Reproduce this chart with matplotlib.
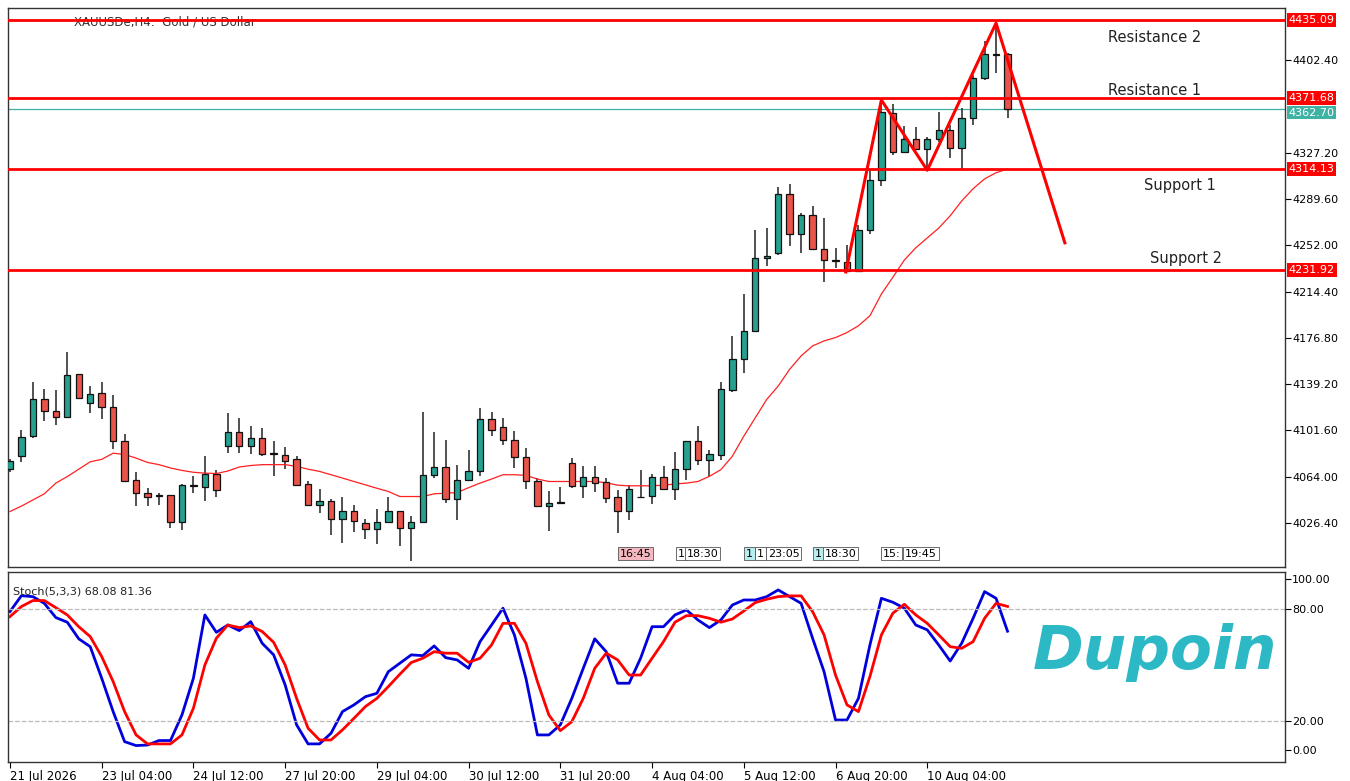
import matplotlib
matplotlib.use("Agg")
import matplotlib.pyplot as plt
from matplotlib.patches import Rectangle
import numpy as np

# candles (open, high, low, close), H4 bars
opens = [4070.4, 4080.5, 4096.8, 4126.7, 4117.7, 4112.3, 4147.1, 4124.0, 4131.6, 4120.7,
         4092.7, 4060.9, 4050.5, 4049.2, 4049.2, 4026.9, 4056.2, 4055.4, 4066.3, 4089.2,
         4100.0, 4089.2, 4095.1, 4083.2, 4081.8, 4078.6, 4057.9, 4041.0, 4044.5, 4029.3,
         4036.4, 4026.1, 4021.2, 4026.9, 4036.4, 4022.0, 4026.9, 4065.5, 4071.7, 4045.7,
         4060.9, 4068.2, 4110.4, 4104.4, 4094.1, 4079.9, 4060.1, 4040.2, 4042.4, 4075.0,
         4056.0, 4063.6, 4059.3, 4047.3, 4036.4, 4047.6, 4048.4, 4063.6, 4053.8, 4070.1,
         4092.7, 4077.2, 4081.8, 4134.3, 4159.4, 4182.5, 4241.5, 4245.9, 4294.0, 4261.4,
         4276.3, 4248.6, 4240.4, 4238.8, 4231.4, 4264.1, 4304.9, 4359.2, 4327.9, 4338.3,
         4330.1, 4338.3, 4345.6, 4331.2, 4355.1, 4388.3, 4407.3, 4407.3]
closes = [4076.4, 4096.2, 4126.7, 4117.2, 4112.6, 4146.6, 4128.1, 4131.3, 4120.7, 4092.7,
          4060.6, 4050.5, 4047.8, 4048.6, 4026.9, 4056.8, 4057.3, 4066.3, 4052.7, 4100.0,
          4089.2, 4095.1, 4082.6, 4082.6, 4076.9, 4057.3, 4041.0, 4044.5, 4029.3, 4036.4,
          4028.2, 4021.2, 4026.9, 4036.4, 4022.0, 4026.9, 4065.5, 4071.7, 4045.6, 4060.9,
          4068.2, 4110.4, 4102.2, 4093.5, 4079.9, 4060.1, 4039.7, 4042.4, 4043.2, 4056.0,
          4063.6, 4058.7, 4046.5, 4036.4, 4053.8, 4047.0, 4063.6, 4053.8, 4070.1, 4092.7,
          4077.8, 4082.4, 4134.9, 4159.4, 4182.5, 4241.5, 4243.7, 4294.0, 4261.4, 4276.3,
          4249.1, 4240.4, 4239.6, 4231.4, 4264.1, 4304.9, 4360.6, 4327.9, 4338.8, 4330.1,
          4338.3, 4345.6, 4331.2, 4355.1, 4388.3, 4407.3, 4406.8, 4362.7]
highs = [4078.0, 4102.2, 4141.1, 4135.4, 4134.0, 4165.6, 4147.1, 4137.6, 4141.1, 4130.2,
         4099.0, 4067.4, 4054.6, 4050.5, 4049.2, 4057.9, 4064.1, 4081.0, 4069.0, 4115.3,
         4111.7, 4105.5, 4103.6, 4092.7, 4088.1, 4081.0, 4060.1, 4053.8, 4045.6, 4047.3,
         4041.0, 4029.3, 4037.5, 4047.3, 4036.4, 4032.0, 4116.4, 4100.0, 4093.5, 4073.7,
         4085.9, 4119.9, 4116.4, 4111.7, 4100.9, 4087.3, 4062.8, 4051.9, 4055.5, 4079.1,
         4072.3, 4072.3, 4062.8, 4052.7, 4057.3, 4069.6, 4066.3, 4072.9, 4083.7, 4092.7,
         4105.5, 4085.4, 4140.9, 4178.4, 4212.4, 4264.1, 4266.0, 4299.4, 4302.2, 4278.5,
         4283.9, 4274.1, 4249.7, 4252.4, 4268.2, 4314.0, 4369.3, 4366.6, 4349.2, 4348.4,
         4340.2, 4360.6, 4349.7, 4363.3, 4390.5, 4417.7, 4431.3, 4408.2]
lows = [4068.0, 4075.6, 4095.4, 4109.0, 4106.3, 4112.3, 4127.2, 4115.8, 4110.9, 4086.4,
        4059.2, 4039.7, 4039.7, 4041.0, 4022.0, 4020.6, 4050.5, 4044.5, 4047.8, 4083.2,
        4083.2, 4082.4, 4080.5, 4064.1, 4070.1, 4057.3, 4040.2, 4034.2, 4016.5, 4010.3,
        4019.3, 4013.0, 4009.2, 4026.1, 4007.6, 3995.6, 4026.9, 4062.8, 4042.9, 4028.3,
        4060.1, 4064.2, 4096.8, 4090.0, 4071.0, 4053.8, 4039.7, 4020.1, 4041.8, 4054.6,
        4046.5, 4051.1, 4042.4, 4018.5, 4028.8, 4046.5, 4041.8, 4053.8, 4044.6, 4061.4,
        4073.7, 4064.2, 4077.8, 4132.7, 4148.5, 4182.5, 4235.0, 4244.2, 4251.3, 4245.9,
        4249.1, 4222.5, 4233.3, 4230.1, 4231.4, 4261.4, 4300.2, 4325.8, 4327.4, 4329.3,
        4313.0, 4336.1, 4323.0, 4314.4, 4349.7, 4386.4, 4391.9, 4355.7]

ma = [4035.6, 4040.0, 4045.0, 4050.0, 4058.7, 4064.0, 4070.0, 4076.0, 4078.0, 4083.0,
      4082.0, 4079.0, 4075.5, 4073.7, 4071.0, 4069.0, 4067.5, 4066.8, 4066.5, 4068.5,
      4071.8, 4073.0, 4073.7, 4073.7, 4073.7, 4072.3, 4070.0, 4068.2, 4065.5, 4062.8,
      4060.0, 4057.3, 4054.5, 4051.9, 4047.8, 4047.8, 4047.8, 4050.0, 4050.5, 4051.0,
      4055.0, 4058.7, 4062.0, 4065.5, 4065.5, 4065.0, 4062.0, 4060.0, 4060.0, 4060.0,
      4060.0, 4060.0, 4059.0, 4057.0, 4056.5, 4056.5, 4056.5, 4057.0, 4058.0, 4058.7,
      4060.0, 4064.2, 4069.6, 4080.5, 4096.8, 4111.8, 4126.7, 4137.6, 4151.2, 4162.1,
      4170.2, 4174.3, 4177.0, 4181.1, 4186.6, 4194.7, 4212.4, 4226.0, 4240.0, 4250.0,
      4258.0, 4266.0, 4276.0, 4288.0, 4298.0, 4306.0, 4311.0, 4314.0]

stoch_k = [78.6, 87.1, 86.6, 83.0, 75.4, 72.9, 64.0, 59.8, 42.9, 25.0,
           8.9, 6.8, 7.1, 9.5, 9.5, 23.2, 42.9, 76.8, 67.5, 71.4,
           68.4, 73.2, 61.6, 55.4, 39.3, 17.9, 7.7, 7.7, 13.4, 25.0,
           28.6, 33.0, 34.8, 46.4, 50.9, 55.4, 55.0, 60.2, 53.9, 52.7,
           48.2, 62.5, 71.4, 80.4, 66.0, 42.9, 12.5, 12.5, 17.9, 32.1,
           48.2, 64.0, 57.1, 40.2, 40.2, 53.6, 70.5, 70.5, 76.8, 79.5,
           74.1, 70.0, 74.1, 82.1, 84.8, 84.8, 86.6, 90.2, 86.6, 83.0,
           64.3, 46.4, 20.5, 20.5, 32.1, 60.7, 85.7, 83.6, 80.4, 71.4,
           68.8, 60.7, 52.1, 61.6, 75.0, 89.3, 85.7, 68.08]
stoch_d = [75.9, 81.3, 84.5, 84.5, 80.7, 76.8, 70.5, 65.2, 54.5, 41.1,
           25.0, 12.5, 7.7, 7.7, 7.7, 12.5, 26.8, 50.0, 64.3, 71.4,
           70.0, 70.9, 67.9, 62.1, 50.0, 32.1, 16.1, 9.8, 9.8, 15.2,
           21.4, 27.7, 32.1, 38.4, 45.0, 51.3, 53.6, 57.1, 56.3, 56.3,
           51.4, 53.6, 60.7, 72.3, 72.3, 61.6, 41.1, 23.2, 14.8, 19.6,
           32.1, 48.2, 56.3, 52.7, 44.6, 44.6, 53.6, 62.5, 72.9, 76.4,
           76.4, 75.0, 72.9, 74.6, 78.9, 83.4, 85.2, 86.6, 87.0, 87.0,
           78.6, 66.1, 44.6, 28.6, 25.0, 43.8, 66.1, 77.7, 82.5, 76.8,
           72.3, 66.1, 59.8, 58.9, 62.5, 75.0, 83.0, 81.36]

levels = [4435.09, 4371.68, 4314.13, 4231.92]
level_names = ["Resistance 2", "Resistance 1", "Support 1", "Support 2"]
level_text_x = [1155, 1155, 1180, 1186]
level_text_y = [4421.3, 4377.5, 4301.0, 4241.0]
last_price = 4362.70

zigzag_x = [72.9, 76.0, 80.0, 86.0, 92.0]
zigzag_y = [4230.3, 4370.1, 4313.0, 4432.6, 4254.0]

price_ticks = [4026.40, 4064.00, 4101.60, 4139.20, 4176.80, 4214.40, 4252.00,
               4289.60, 4327.20, 4402.40]
date_labels = ["21 Jul 2026", "23 Jul 04:00", "24 Jul 12:00", "27 Jul 20:00",
               "29 Jul 04:00", "30 Jul 12:00", "31 Jul 20:00", "4 Aug 04:00",
               "5 Aug 12:00", "6 Aug 20:00", "10 Aug 04:00"]
date_idx = [0, 8, 16, 24, 32, 40, 48, 56, 64, 72, 80]

up_col = "#26a08f"
dn_col = "#e8534a"
W, H = 1350, 781

fig = plt.figure(figsize=(13.5, 7.81), dpi=100)
ax = fig.add_axes([8 / W, 1 - 567 / H, 1277 / W, 559 / H])
ax2 = fig.add_axes([8 / W, 1 - 762 / H, 1277 / W, 190 / H], sharex=ax)

for i in range(len(opens)):
    o, c, h, l = opens[i], closes[i], highs[i], lows[i]
    ax.vlines(i, l, h, color="#222222", lw=1.1, zorder=2)
    col = up_col if c >= o else dn_col
    bh = max(abs(c - o), 0.6)
    ax.add_patch(Rectangle((i - 0.28, min(o, c)), 0.56, bh, facecolor=col,
                           edgecolor="#111111", lw=0.9, zorder=3))

ax.plot(range(len(ma)), ma, color="#ff2020", lw=0.9, zorder=2)
for lv in levels:
    ax.axhline(lv, color="#ff0000", lw=2, zorder=4)
ax.axhline(last_price, color="#3fb3a3", lw=0.9, zorder=1)
ax.plot(zigzag_x, zigzag_y, color="#ff0000", lw=2.2, zorder=5)

xmin, xmax = -0.17, 111.2
ax.set_xlim(xmin, xmax)
ax.set_ylim(3990.5, 4444.9)
ax.yaxis.tick_right()
ax.set_yticks(price_ticks)
ax.set_yticklabels([f"{p:.2f}" for p in price_ticks], fontsize=8)
ax.tick_params(axis="x", bottom=False, labelbottom=False)
ax.tick_params(axis="y", length=4, pad=1)

def px_to_idx(px):
    return xmin + (px - 8) / 1277 * (xmax - xmin)

for name, tx, ty in zip(level_names, level_text_x, level_text_y):
    ax.text(px_to_idx(tx), ty, name, fontsize=10.5, color="#222222", ha="center", va="center")

for lv in levels:
    ax.text(1.003, lv, f"{lv:.2f}", transform=ax.get_yaxis_transform(), fontsize=8,
            color="white", va="center", ha="left",
            bbox=dict(boxstyle="square,pad=0.15", fc="#ff0000", ec="none"))
ax.text(1.003, last_price - 3, f"{last_price:.2f}", transform=ax.get_yaxis_transform(),
        fontsize=8, color="white", va="center", ha="left",
        bbox=dict(boxstyle="square,pad=0.15", fc="#3fb3a3", ec="none"))

ax.text(0.052, 0.975, "XAUUSDe,H4:  Gold / US Dollar", transform=ax.transAxes,
        fontsize=8.5, color="#333333", va="center")

# small time markers at the bottom of the price panel
marks = [("16:45", 620, "#f4b8c0"), ("1", 678, "white"), ("18:30", 687, "white"),
         ("1", 746, "#b8eef0"), ("1", 757, "white"), ("23:05", 768, "white"),
         ("1", 815, "#b8eef0"), ("18:30", 825, "white"), ("15:", 883, "white"),
         ("19:45", 905, "white")]
for txt, px, fc in marks:
    ax.text((px - 8) / 1277, 0.024, txt, transform=ax.transAxes, fontsize=8,
            va="center", ha="left",
            bbox=dict(boxstyle="square,pad=0.15", fc=fc, ec="#555555", lw=0.6))

# stochastic
ax2.plot(range(len(stoch_k)), stoch_k, color="#0000dd", lw=2)
ax2.plot(range(len(stoch_d)), stoch_d, color="#ff0000", lw=2)
ax2.axhline(80, color="#bbbbbb", lw=0.9, ls="--")
ax2.axhline(20, color="#bbbbbb", lw=0.9, ls="--")
ax2.set_ylim(-2, 99.8)
ax2.yaxis.tick_right()
ax2.set_yticks([4.5, 20, 80, 96.1])
ax2.set_yticklabels(["0.00", "20.00", "80.00", "100.00"], fontsize=8)
ax2.tick_params(axis="y", length=4, pad=1)
ax2.set_xticks(date_idx)
ax2.set_xticklabels(date_labels, fontsize=8.5, ha="left")
ax2.tick_params(axis="x", length=4, pad=2)
ax2.text(0.004, 0.9, "Stoch(5,3,3) 68.08 81.36", transform=ax2.transAxes, fontsize=8,
         color="#222222", va="center")

for a in (ax, ax2):
    for s in a.spines.values():
        s.set_color("#333333")
        s.set_linewidth(1)

fig.text(1155 / W, 1 - 652 / H, "Dupoin", fontsize=44, fontweight="bold",
         style="italic", color="#2db8c5", ha="center", va="center",
         family="DejaVu Sans")

fig.savefig("out.png", dpi=100, facecolor="white")
